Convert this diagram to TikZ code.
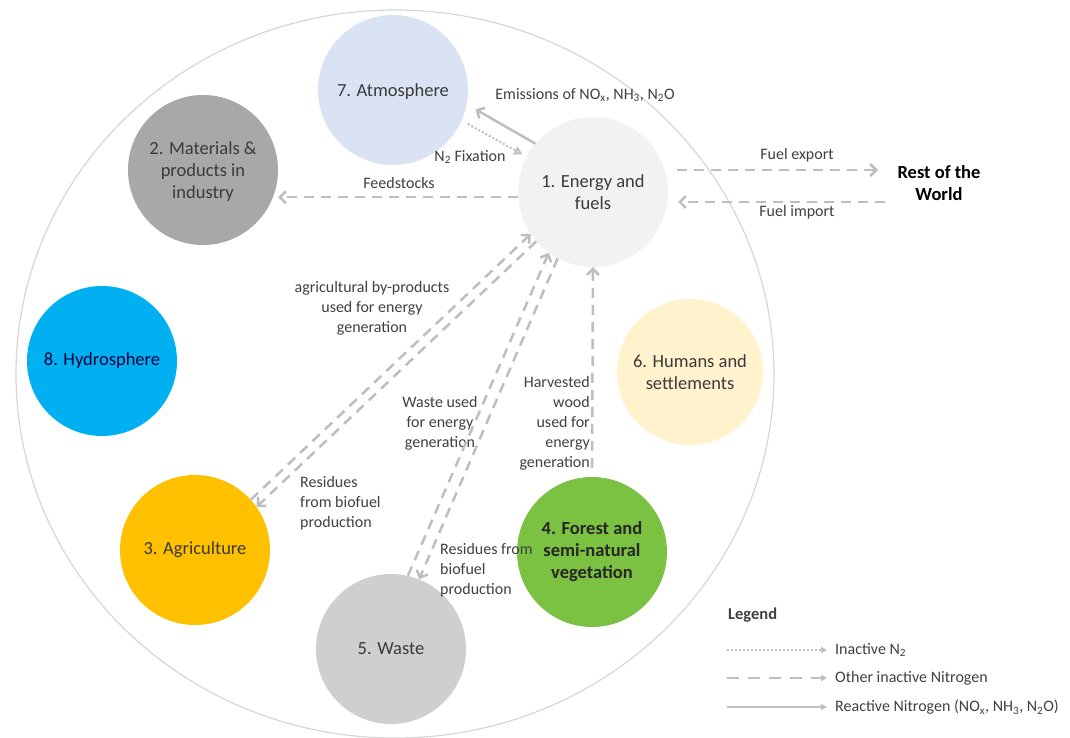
\documentclass[tikz,border=0pt]{standalone}
\usepackage{fontspec}
\setmainfont{Carlito}
\usepackage{tikz}
\usetikzlibrary{arrows.meta}

\definecolor{energyfill}{HTML}{F2F2F2}
\definecolor{matfill}{HTML}{A8A8A8}
\definecolor{agrifill}{HTML}{FFC000}
\definecolor{forestfill}{HTML}{7CC242}
\definecolor{wastefill}{HTML}{CFCFCF}
\definecolor{humanfill}{HTML}{FFF2CC}
\definecolor{atmofill}{HTML}{DAE3F3}
\definecolor{hydrofill}{HTML}{00B0F0}
\definecolor{nodetxt}{HTML}{3A3A3A}
\definecolor{lbltxt}{HTML}{404040}
\definecolor{arrowgray}{HTML}{BEBEBE}
\definecolor{ringgray}{HTML}{D6D6D6}

\begin{document}
\begin{tikzpicture}[x=1pt, y=-1pt]
\tikzset{vertex/.style = {shape=circle, minimum size=150pt, inner sep=0pt, align=center, text=nodetxt, font=\fontsize{18.5}{22}\selectfont}}
\tikzset{flow/.style = {-{Straight Barb[length=6pt,width=12pt]}, draw=arrowgray, line width=2.5pt, dash pattern=on 10pt off 7pt}}
\tikzset{react/.style = {-{Straight Barb[length=6pt,width=12pt]}, draw=arrowgray, line width=2.5pt}}
\tikzset{fix/.style = {-{Triangle[open,length=8pt,width=9pt]}, draw=arrowgray, line width=2pt, dash pattern=on 2pt off 2pt}}
\tikzset{lbl/.style = {align=center, text=lbltxt, font=\fontsize{16}{20}\selectfont, inner sep=0pt}}
\useasboundingbox (0,0) rectangle (1070,738);

% outer ring
\draw[ringgray, line width=1.2pt] (395,374) ellipse [x radius=379, y radius=364];

% vertices
\node[vertex, fill=energyfill] (energy) at (593,192) {1. Energy and\\fuels};
\node[vertex, fill=matfill, text depth=-6pt] (mat) at (203,170) {2. Materials \&\\products in\\industry};
\node[vertex, fill=agrifill] (agri) at (195,550) {3. Agriculture};
\node[vertex, fill=forestfill, text=black!85, font=\fontsize{18.5}{22}\selectfont\bfseries] (forest) at (592,552) {4. Forest and\\semi-natural\\vegetation};
\node[vertex, fill=wastefill] (waste) at (391,649) {5. Waste};
\node[vertex, fill=humanfill, minimum size=146pt] (humans) at (690,372) {6. Humans and\\settlements};
\node[vertex, fill=atmofill, text depth=-4pt] (atmos) at (393,90) {7. Atmosphere};
\node[vertex, fill=hydrofill, text=blue!25!black] (hydro) at (102,361) {8. Hydrosphere};
\node[align=center, font=\fontsize{18.5}{22}\selectfont\bfseries] (row) at (939,183) {Rest of the\\World};

% labels
\node[lbl] (emislbl) at (585,95) {Emissions of NO\textsubscript{x}, NH\textsubscript{3}, N\textsubscript{2}O};
\node[lbl] (fixlbl) at (470,157) {N\textsubscript{2} Fixation};
\node[lbl] (feedlbl) at (399,183) {Feedstocks};
\node[lbl] (explbl) at (797,155) {Fuel export};
\node[lbl] (implbl) at (797,212) {Fuel import};
\node[lbl] (agrilbl) at (372,308) {agricultural by-products\\used for energy\\generation};
\node[lbl] (wastelbl) at (440,423) {Waste used\\for energy\\generation};
\node[lbl, align=right, anchor=east] (woodlbl) at (590,423) {Harvested\\wood\\used for\\energy\\generation};
\node[lbl, align=left, anchor=west] (res1) at (300,503) {Residues\\from biofuel\\production};
\node[lbl, align=left, anchor=west] (res2) at (440,570) {Residues from\\biofuel\\production};

%edges
\coordinate (expstart) at (677,170);
\coordinate (expend) at (878,170);
\coordinate (impstart) at (885,202);
\coordinate (impend) at (678,202);
\draw[flow] (expstart) -- (expend);
\draw[flow] (impstart) -- (impend);
\draw[flow] (energy.184) -- (energy.184 -| mat.east);
\draw[react, shorten >=10pt] (energy.140) -- (atmos.-11);
\draw[fix, shorten <=7pt, shorten >=5pt] (atmos.-24) -- (energy.152);
\draw[flow] (agri.42) -- (energy.214);
\draw[flow] (energy.221) -- (agri.35);
\draw[flow] (waste.77) -- (energy.234);
\draw[flow] (energy.242) -- (waste.68);
\draw[flow] ([yshift=9pt]forest.north) -- (energy.south);

% legend
\node[anchor=west, inner sep=0pt, text=lbltxt, font=\fontsize{16.5}{20}\selectfont\bfseries] (legend) at (728,615) {Legend};
\node[lbl, anchor=west] (leg1) at (835,650) {Inactive N\textsubscript{2}};
\node[lbl, anchor=west] (leg2) at (835,678) {Other inactive Nitrogen};
\node[lbl, anchor=west] (leg3) at (835,707) {Reactive Nitrogen (NO\textsubscript{x}, NH\textsubscript{3}, N\textsubscript{2}O)};
\coordinate (k1) at (727,650);
\coordinate (k2) at (727,678);
\coordinate (k3) at (727,707);
\draw[fix, line width=1.5pt, -{Triangle[length=6pt,width=6pt]}] (k1) -- ([xshift=-8pt]leg1.west);
\draw[flow, dash pattern=on 12pt off 9pt, -{Triangle[length=6pt,width=6pt]}] (k2) -- ([xshift=-8pt]leg2.west);
\draw[react, -{Triangle[length=6pt,width=6pt]}] (k3) -- ([xshift=-8pt]leg3.west);

\end{tikzpicture}
\end{document}
